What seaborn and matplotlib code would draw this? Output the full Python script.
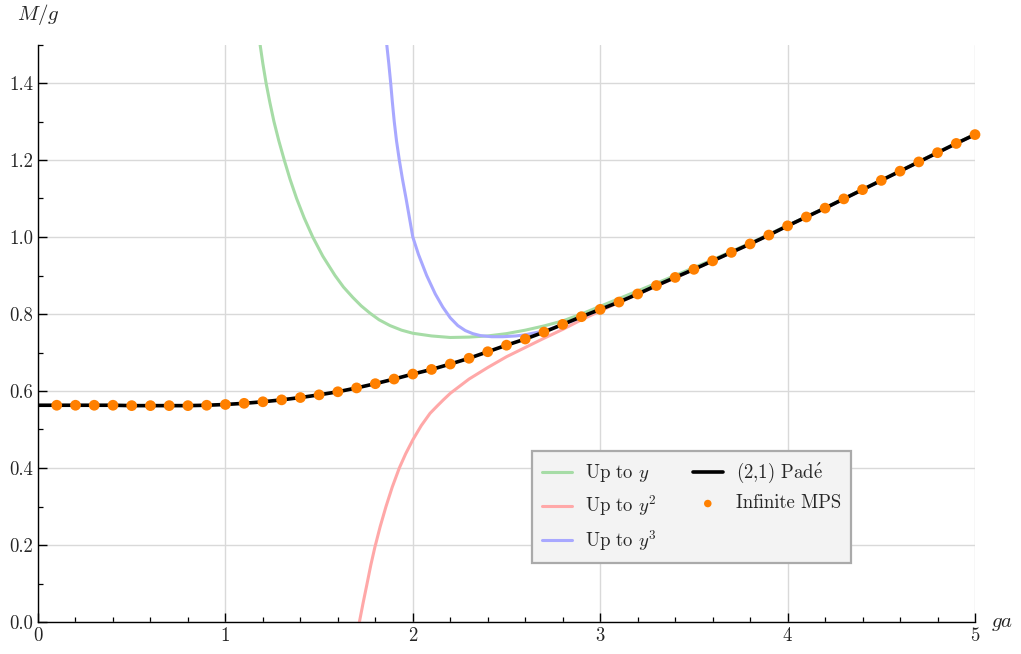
import matplotlib
matplotlib.use("Agg")
import matplotlib.pyplot as plt
import seaborn as sns
import numpy as np
from matplotlib.ticker import MultipleLocator, FormatStrFormatter

# Infinite MPS points (ga = 0.1 ... 5.0)
mps_ga = [round(0.1 * i, 1) for i in range(1, 51)]
mps_mass = [0.563, 0.563, 0.563, 0.563, 0.562, 0.562, 0.562, 0.562, 0.563, 0.565,
            0.568, 0.572, 0.577, 0.583, 0.590, 0.598, 0.608, 0.619, 0.631, 0.644,
            0.656, 0.670, 0.685, 0.702, 0.719, 0.735, 0.753, 0.773, 0.793, 0.812,
            0.831, 0.852, 0.874, 0.895, 0.916, 0.938, 0.960, 0.982, 1.005, 1.029,
            1.052, 1.075, 1.099, 1.123, 1.147, 1.171, 1.195, 1.219, 1.243, 1.266]

# (2,1) Pade curve
pade_ga = [0.0] + mps_ga
pade_mass = [0.563] + mps_mass

# strong coupling expansions
up1_ga = [1.185, 1.200, 1.217, 1.237, 1.259, 1.285, 1.314, 1.345, 1.380, 1.420,
          1.466, 1.520, 1.585, 1.630, 1.680, 1.725, 1.772, 1.820, 1.878, 1.940,
          2.0, 2.1, 2.2, 2.3, 2.4, 2.5, 2.6, 2.7, 2.8, 2.9, 3.0, 3.1, 3.2, 3.3,
          3.4, 3.6, 3.8, 4.0, 4.2, 4.4, 4.6, 4.8, 5.0]
up1_mass = [1.50, 1.45, 1.40, 1.35, 1.30, 1.25, 1.20, 1.15, 1.10, 1.05,
            1.00, 0.950, 0.900, 0.870, 0.843, 0.821, 0.802, 0.785, 0.770, 0.758,
            0.750, 0.743, 0.739, 0.740, 0.743, 0.749, 0.758, 0.769, 0.782, 0.800,
            0.820, 0.840, 0.860, 0.880, 0.900, 0.941, 0.984, 1.030, 1.076, 1.124,
            1.172, 1.220, 1.267]

up2_ga = [1.715, 1.735, 1.754, 1.776, 1.798, 1.826, 1.857, 1.890, 1.928, 1.962,
          2.0, 2.045, 2.092, 2.130, 2.163, 2.2, 2.3, 2.4, 2.5, 2.6, 2.7, 2.8, 2.9,
          3.0, 3.1, 3.2, 3.4, 3.6, 3.8, 4.0, 4.2, 4.4, 4.6, 4.8, 5.0]
up2_mass = [0.00, 0.050, 0.095, 0.148, 0.195, 0.248, 0.300, 0.350, 0.400, 0.437,
            0.473, 0.510, 0.542, 0.561, 0.577, 0.594, 0.631, 0.661, 0.689, 0.713,
            0.737, 0.760, 0.785, 0.808, 0.830, 0.851, 0.894, 0.938, 0.982, 1.029,
            1.075, 1.123, 1.171, 1.219, 1.266]

up3_ga = [1.861, 1.872, 1.882, 1.891, 1.901, 1.913, 1.928, 1.945, 1.964, 1.982,
          2.0, 2.03, 2.074, 2.12, 2.16, 2.2, 2.24, 2.28, 2.32, 2.36, 2.42, 2.48,
          2.55, 2.6, 2.7, 2.8, 2.9, 3.0, 3.2, 3.4, 3.6, 3.8, 4.0, 4.2, 4.4, 4.6,
          4.8, 5.0]
up3_mass = [1.50, 1.45, 1.40, 1.35, 1.30, 1.25, 1.20, 1.15, 1.10, 1.05,
            1.00, 0.955, 0.900, 0.852, 0.818, 0.790, 0.770, 0.757, 0.749, 0.744,
            0.741, 0.741, 0.743, 0.746, 0.756, 0.772, 0.792, 0.812, 0.852, 0.895,
            0.938, 0.982, 1.029, 1.075, 1.123, 1.171, 1.219, 1.266]

sns.set_theme(style="white")
plt.rcParams["font.family"] = ["cmr10", "DejaVu Serif"]
plt.rcParams["mathtext.fontset"] = "cm"
plt.rcParams["axes.formatter.use_mathtext"] = True

fig = plt.figure(figsize=(10.21, 6.54), dpi=100)
ax = fig.add_axes([38 / 1021, 32 / 654, 937 / 1021, 577.5 / 654])

sns.lineplot(x=up1_ga, y=up1_mass, color="#a6dca6", lw=2.2, label="Up to $y$",
             estimator=None, sort=False, ax=ax)
sns.lineplot(x=up2_ga, y=up2_mass, color="#ffa8a8", lw=2.2, label="Up to $y^2$",
             estimator=None, sort=False, ax=ax)
sns.lineplot(x=up3_ga, y=up3_mass, color="#a8a8ff", lw=2.2, label="Up to $y^3$",
             estimator=None, sort=False, ax=ax)
sns.lineplot(x=pade_ga, y=pade_mass, color="black", lw=2.6,
             label=r"(2,1) Pad$\mathrm{\acute{e}}$", estimator=None, sort=False, ax=ax)
sns.scatterplot(x=mps_ga, y=mps_mass, color="#ff8000", s=60, edgecolor="none",
                label="Infinite MPS", clip_on=False, zorder=5, ax=ax)

ax.set_xlim(0, 5)
ax.set_ylim(0, 1.5)
ax.xaxis.set_major_locator(MultipleLocator(1))
ax.xaxis.set_minor_locator(MultipleLocator(0.2))
ax.yaxis.set_major_locator(MultipleLocator(0.2))
ax.yaxis.set_minor_locator(MultipleLocator(0.1))
ax.yaxis.set_major_formatter(FormatStrFormatter("%.1f"))
ax.tick_params(which="major", direction="in", length=6.5, width=1, labelsize=13.5,
               color="black", bottom=True, left=True)
ax.tick_params(which="minor", direction="in", length=3.8, width=0.9,
               color="black", bottom=True, left=True)
ax.grid(True, which="major", color="#d9d9d9", lw=1)
ax.set_axisbelow(True)
for s in ["top", "right"]:
    ax.spines[s].set_visible(False)
for s in ["left", "bottom"]:
    ax.spines[s].set_color("black")
    ax.spines[s].set_linewidth(1)

ax.set_xlabel("")
ax.set_ylabel("")
ax.text(0.0, 1.052, "$M/g$", transform=ax.transAxes, ha="center", va="center", fontsize=15)
ax.text(1.029, -0.004, "$ga$", transform=ax.transAxes, ha="center", va="center", fontsize=15)

leg = ax.legend(ncol=2, loc="lower left", bbox_to_anchor=(0.527, 0.102), borderaxespad=0,
                fontsize=13.5, frameon=True, fancybox=False, framealpha=1,
                facecolor="#f3f3f3", edgecolor="#aaaaaa", handlelength=1.6,
                handletextpad=0.7, columnspacing=1.9, labelspacing=0.5, borderpad=0.55,
                markerscale=0.7)
leg.get_frame().set_linewidth(1.6)

fig.savefig("out.png", dpi=100)
